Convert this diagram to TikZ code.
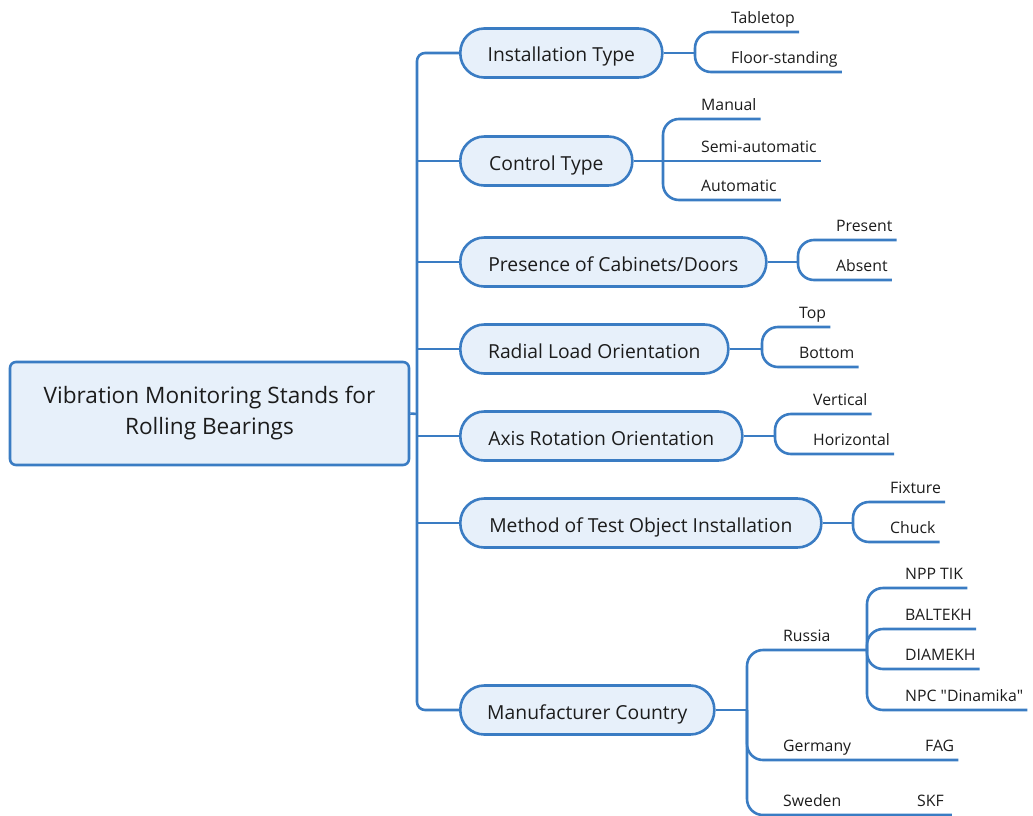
\documentclass[tikz,border=0pt]{standalone}
\usepackage{fontspec}
\setmainfont{Open Sans}
\definecolor{lineBlue}{HTML}{3A7CC3}
\definecolor{boxFill}{HTML}{E7F0FA}
\definecolor{inkGray}{HTML}{1C1C1C}

\begin{document}
\begin{tikzpicture}[x=1pt, y=-1pt, line join=round, text=inkGray,
    link/.style={draw=lineBlue, line width=2.6pt},
    fork/.style={link, rounded corners=16pt},
    root/.style={link, fill=boxFill, rounded corners=6pt, minimum width=399pt,
        minimum height=103pt, align=center, font=\fontsize{22.6}{31}\selectfont},
    topic/.style={link, fill=boxFill, rounded corners=24pt, anchor=west,
        minimum height=49pt, text height=18pt, text depth=0pt,
        font=\fontsize{19.3}{22}\selectfont},
    leaf/.style={anchor=south west, inner xsep=4pt, inner ysep=4pt,
        text depth=4pt, font=\fontsize{15.8}{18}\selectfont}]
\useasboundingbox (0,0) rectangle (1033,816);

% root and first-level topics
\node[root] (root) at (209.5,413.5) {Vibration Monitoring Stands for\\Rolling Bearings};
\node[topic, minimum width=202pt] (inst) at (459,53) {Installation Type};
\node[topic, minimum width=172pt] (ctrl) at (459,161) {Control Type};
\node[topic, minimum width=306pt] (cab) at (459,262) {Presence of Cabinets/Doors};
\node[topic, minimum width=268pt] (radial) at (459,349) {Radial Load Orientation};
\node[topic, minimum width=282pt] (axis) at (459,436) {Axis Rotation Orientation};
\node[topic, minimum width=361pt] (method) at (459,523) {Method of Test Object Installation};
\node[topic, minimum width=254pt] (manu) at (459,710) {Manufacturer Country};

% trunk
\draw[link] (root.east) -- (417,414) coordinate (trunk);
\draw[link, rounded corners=8pt] (inst.west) -| (trunk) |- (manu.west);
\foreach \t in {ctrl, cab, radial, axis, method}
    \draw[link] (trunk |- \t.west) -- (\t.west);

% leaves
\node[leaf] (tabletop) at (727,32) {Tabletop};
\node[leaf] (floor) at (727,72) {Floor-standing};
\node[leaf] (manual) at (697,119) {Manual};
\node[leaf] (semi) at (697,161) {Semi-automatic};
\node[leaf] (auto) at (697,200) {Automatic};
\node[leaf] (present) at (832,240) {Present};
\node[leaf] (absent) at (832,280) {Absent};
\node[leaf] (top) at (795,327) {Top};
\node[leaf] (bottom) at (795,367) {Bottom};
\node[leaf] (vert) at (809,414) {Vertical};
\node[leaf] (horiz) at (809,454) {Horizontal};
\node[leaf] (fixture) at (886,502) {Fixture};
\node[leaf] (chuck) at (886,542) {Chuck};
\node[leaf] (russia) at (779,650) {Russia};
\node[leaf] (germany) at (779,760) {Germany};
\node[leaf] (sweden) at (779,815) {Sweden};
\node[leaf] (npp) at (901,588) {NPP TIK};
\node[leaf] (baltekh) at (901,629) {BALTEKH};
\node[leaf] (diamekh) at (901,669) {DIAMEKH};
\node[leaf] (npc) at (901,710) {NPC \textquotedbl Dinamika\textquotedbl};
\node[leaf] (fag) at (921,760) {FAG};
\node[leaf, inner xsep=8pt] (skf) at (909,815) {SKF};

% branches
\draw[link] (inst.east) -- (695,53) coordinate (instfork);
\draw[fork] (instfork) |- (tabletop.south east);
\draw[fork] (instfork) |- (floor.south east);

\draw[link] (ctrl.east) -- (semi.south east);
\draw[fork] (663,161) |- (manual.south east);
\draw[fork] (663,161) |- (auto.south east);

\draw[link] (cab.east) -- (798,262) coordinate (cabfork);
\draw[fork] (cabfork) |- (present.south east);
\draw[fork] (cabfork) |- (absent.south east);

\draw[link] (radial.east) -- (762,349) coordinate (radfork);
\draw[fork] (radfork) |- (top.south east);
\draw[fork] (radfork) |- (bottom.south east);

\draw[link] (axis.east) -- (775,436) coordinate (axisfork);
\draw[fork] (axisfork) |- (vert.south east);
\draw[fork] (axisfork) |- (horiz.south east);

\draw[link] (method.east) -- (853,523) coordinate (methfork);
\draw[fork] (methfork) |- (fixture.south east);
\draw[fork] (methfork) |- (chuck.south east);

\draw[link] (manu.east) -- (747,710) coordinate (manufork);
\draw[fork] (manufork) |- (russia.south west) -- (867,650) coordinate (rusfork);
\draw[fork] (manufork) |- (germany.south west) -- (fag.south east);
\draw[fork] (manufork) |- (sweden.south west) -- (skf.south east);
\foreach \c in {npp, baltekh, diamekh, npc}
    \draw[fork] (rusfork) |- (\c.south east);
\end{tikzpicture}
\end{document}
